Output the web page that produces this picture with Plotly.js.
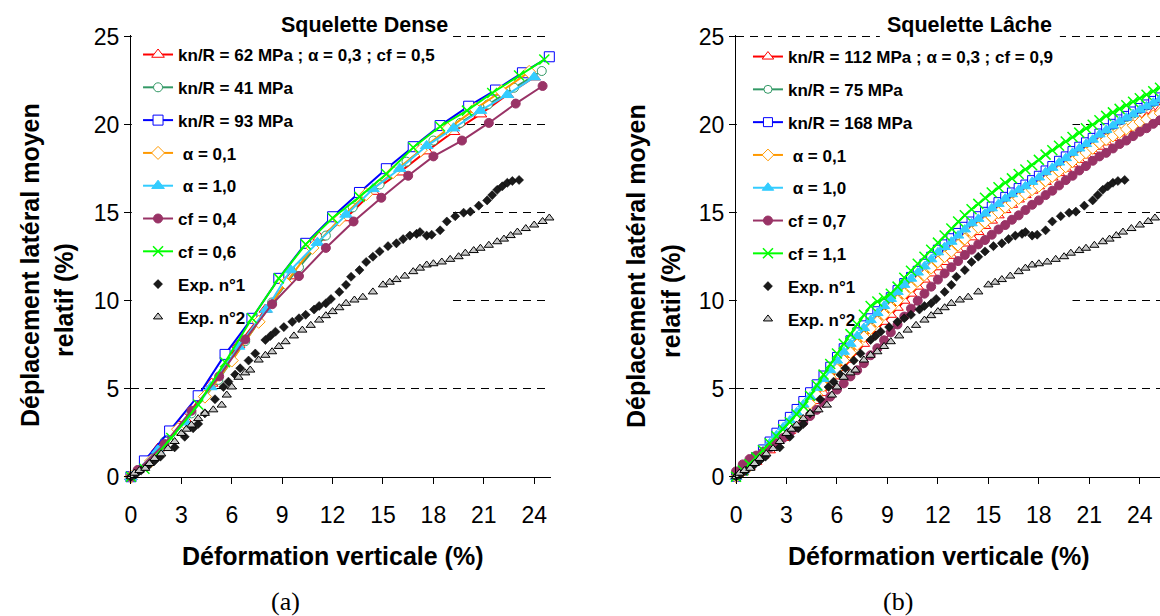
<!DOCTYPE html>
<html><head><meta charset="utf-8">
<script src="https://cdn.plot.ly/plotly-3.0.1.min.js"></script>
<style>html,body{margin:0;padding:0;background:#fff}#chart{width:1160px;height:616px}</style>
</head><body><div id="chart"></div>
<script>
// ---------- (a) Squelette Dense ----------
const dRefX = [0, 1.6, 3.2, 4.8, 6.4, 8.0, 9.6, 11.2, 12.8, 14.4, 16.0, 17.6, 19.2, 20.8, 22.4, 24.0];
const dRefY = [0, 1.6, 3.3, 5.3, 7.5, 9.5, 11.4, 13.6, 14.7, 16.2, 17.3, 18.5, 19.6, 20.6, 21.7, 22.7];
const dKn41X = [0, 0.4, 2.0, 3.6, 5.2, 6.8, 8.4, 10.0, 11.6, 13.2, 14.8, 16.4, 18.0, 19.6, 21.25, 22.8, 24.45];
const dKn41Y = [0, 0.35, 2.0, 3.6, 5.5, 7.7, 9.9, 11.9, 13.7, 15.3, 16.6, 17.9, 19.1, 20.1, 21.15, 22.1, 23.05];
const dKn93X = [0, 0.8, 2.3, 4.0, 5.6, 7.2, 8.8, 10.4, 12.0, 13.6, 15.2, 16.8, 18.4, 20.1, 21.7, 23.3, 24.9];
const dKn93Y = [0, 0.9, 2.6, 4.6, 6.95, 9.0, 11.27, 13.26, 14.77, 16.15, 17.5, 18.75, 19.95, 21.05, 21.97, 22.95, 23.86];
const dA01X = [0, 1.2, 2.8, 4.4, 6.0, 7.6, 9.2, 10.8, 12.4, 14.0, 15.6, 17.25, 18.85, 20.5, 22.05, 23.7];
const dA01Y = [0, 0.9, 2.7, 4.55, 6.6, 8.8, 11.0, 13.0, 14.6, 16.05, 17.3, 18.55, 19.75, 20.9, 21.9, 23.0];
const dA10X = [0, 1.6, 3.25, 4.75, 6.4, 8.05, 9.5, 11.1, 12.8, 14.4, 16.0, 17.6, 19.2, 20.8, 22.4, 24.0];
const dA10Y = [0, 1.5, 3.1, 5.1, 7.4, 9.5, 11.74, 13.3, 14.9, 16.35, 17.5, 18.8, 19.8, 20.8, 21.7, 22.7];
const dCf04X = [0, 0.4, 2.0, 3.6, 5.25, 6.8, 8.4, 10.0, 11.6, 13.25, 14.9, 16.5, 18.0, 19.7, 21.3, 22.9, 24.5];
const dCf04Y = [0, 0.38, 1.86, 3.75, 5.7, 7.8, 9.8, 11.4, 13.0, 14.5, 15.85, 17.1, 18.2, 19.1, 20.1, 21.2, 22.2];
const dCf06X = [0, 0.8, 2.4, 4.0, 5.6, 7.2, 8.8, 10.4, 12.0, 13.6, 15.2, 16.8, 18.4, 20.0, 21.5, 23.1, 24.6];
const dCf06Y = [0, 0.45, 2.2, 4.1, 6.5, 9.0, 11.27, 13.2, 14.7, 15.9, 17.2, 18.7, 19.9, 20.8, 21.8, 22.8, 23.7];

// ---------- Experiments (same in both panels) ----------
const exp1X = [0, 0.3, 0.6, 1.0, 1.4, 1.75, 2.6, 3.2, 3.7, 4.0, 4.4, 5.0, 5.5, 5.8, 6.2, 6.5, 7.0, 7.4, 8.0, 8.3, 8.6, 9.1, 9.6, 10.0, 10.4, 10.9, 11.2, 11.6, 11.9, 12.4, 12.8, 13.1, 13.6, 14.0, 14.4, 14.8, 15.3, 15.8, 16.2, 16.6, 17.0, 17.2, 17.6, 17.9, 18.4, 18.8, 19.3, 19.8, 20.2, 20.7, 21.2, 21.5, 21.8, 22.1, 22.4, 22.7, 23.1];
const exp1Y = [0, 0.15, 0.35, 0.6, 0.9, 1.14, 1.67, 2.27, 2.75, 3.0, 3.6, 4.4, 5.1, 5.4, 5.8, 6.16, 6.6, 7.0, 7.77, 8.0, 8.24, 8.5, 8.8, 9.0, 9.2, 9.5, 9.7, 9.85, 10.1, 10.5, 10.9, 11.36, 11.74, 12.2, 12.5, 12.8, 13.1, 13.26, 13.5, 13.7, 13.8, 13.9, 13.7, 13.75, 14.0, 14.5, 14.8, 15.0, 15.06, 15.4, 15.7, 16.0, 16.3, 16.5, 16.7, 16.8, 16.86];
const exp2X = [0, 0.2, 0.5, 0.85, 1.1, 1.4, 1.8, 2.2, 2.6, 3.0, 3.3, 3.6, 4.0, 4.4, 4.9, 5.4, 5.7, 6.0, 6.4, 6.8, 7.1, 7.6, 8.0, 8.4, 8.8, 9.2, 9.7, 10.2, 10.7, 11.2, 11.6, 12.0, 12.4, 12.8, 13.3, 13.8, 14.4, 15.0, 15.4, 15.8, 16.3, 16.8, 17.2, 17.6, 18.0, 18.5, 19.0, 19.5, 19.9, 20.4, 20.8, 21.3, 21.8, 22.2, 22.6, 23.0, 23.5, 24.0, 24.5, 24.9];
const exp2Y = [0, 0.2, 0.35, 0.48, 0.75, 1.04, 1.3, 1.6, 2.0, 2.46, 2.7, 2.94, 3.3, 3.6, 3.8, 4.07, 4.64, 5.1, 5.65, 5.9, 6.06, 6.63, 6.9, 7.1, 7.4, 7.67, 8.0, 8.33, 8.6, 8.9, 9.15, 9.38, 9.6, 9.85, 10.04, 10.2, 10.5, 10.9, 11.05, 11.2, 11.4, 11.65, 11.85, 12.03, 12.1, 12.2, 12.35, 12.5, 12.7, 12.85, 12.98, 13.15, 13.35, 13.5, 13.7, 13.9, 14.1, 14.3, 14.5, 14.7];

// ---------- (b) Squelette Lâche ----------
const lX = [0, 0.4, 0.8, 1.2, 1.6, 2.0, 2.4, 2.8, 3.2, 3.6, 4.0, 4.4, 4.8, 5.2, 5.6, 6.0, 6.4, 6.8, 7.2, 7.6, 8.0, 8.4, 8.8, 9.2, 9.6, 10.0, 10.4, 10.8, 11.2, 11.6, 12.0, 12.4, 12.8, 13.2, 13.6, 14.0, 14.4, 14.8, 15.2, 15.6, 16.0, 16.4, 16.8, 17.2, 17.6, 18.0, 18.4, 18.8, 19.2, 19.6, 20.0, 20.4, 20.8, 21.2, 21.6, 22.0, 22.4, 22.8, 23.2, 23.6, 24.0, 24.4, 24.8, 25.2];
const lRefY = [0, 0.25, 0.55, 0.85, 1.2, 1.5, 1.85, 2.2, 2.6, 3.0, 3.4, 3.85, 4.3, 4.75, 5.25, 5.7, 6.2, 6.65, 7.1, 7.55, 8.0, 8.4, 8.8, 9.2, 9.6, 10.0, 10.4, 10.8, 11.2, 11.55, 11.9, 12.2, 12.55, 12.9, 13.25, 13.6, 13.9, 14.25, 14.55, 14.85, 15.15, 15.45, 15.75, 16.0, 16.25, 16.5, 16.75, 17.0, 17.25, 17.5, 17.75, 18.0, 18.25, 18.5, 18.75, 19.0, 19.25, 19.5, 19.75, 20.0, 20.25, 20.45, 20.7, 20.9];
const lKn75Y = [0, 0.3, 0.65, 1.0, 1.45, 1.9, 2.35, 2.8, 3.2, 3.65, 4.1, 4.55, 5.05, 5.55, 6.05, 6.6, 7.1, 7.55, 8.0, 8.45, 8.9, 9.3, 9.7, 10.1, 10.5, 10.9, 11.25, 11.6, 11.95, 12.35, 12.75, 13.05, 13.35, 13.7, 14.05, 14.4, 14.65, 14.95, 15.25, 15.5, 15.8, 16.05, 16.3, 16.5, 16.75, 17.0, 17.3, 17.55, 17.85, 18.1, 18.4, 18.65, 18.9, 19.15, 19.45, 19.7, 19.95, 20.2, 20.4, 20.6, 20.85, 21.05, 21.25, 21.45];
const lKn168Y = [0, 0.35, 0.7, 1.1, 1.55, 2.0, 2.5, 2.95, 3.4, 3.85, 4.3, 4.8, 5.25, 5.75, 6.25, 6.8, 7.3, 7.75, 8.2, 8.6, 9.0, 9.4, 9.8, 10.2, 10.6, 11.0, 11.35, 11.7, 12.1, 12.5, 12.9, 13.2, 13.55, 13.85, 14.2, 14.5, 14.8, 15.05, 15.35, 15.6, 15.9, 16.15, 16.4, 16.6, 16.85, 17.1, 17.4, 17.65, 17.95, 18.2, 18.5, 18.75, 19.0, 19.25, 19.5, 19.8, 20.05, 20.3, 20.5, 20.75, 20.95, 21.15, 21.35, 21.55];
const lA01Y = [0, 0.3, 0.6, 0.95, 1.3, 1.7, 2.1, 2.5, 2.9, 3.3, 3.7, 4.15, 4.65, 5.15, 5.65, 6.1, 6.6, 7.05, 7.5, 7.95, 8.4, 8.8, 9.2, 9.6, 10.0, 10.4, 10.75, 11.1, 11.45, 11.85, 12.2, 12.5, 12.8, 13.15, 13.5, 13.9, 14.15, 14.45, 14.75, 15.0, 15.3, 15.55, 15.8, 16.05, 16.3, 16.5, 16.8, 17.05, 17.35, 17.6, 17.9, 18.15, 18.4, 18.65, 18.95, 19.15, 19.35, 19.55, 19.75, 19.95, 20.15, 20.3, 20.5, 20.65];
const lA10Y = [0, 0.3, 0.65, 1.0, 1.45, 1.9, 2.35, 2.8, 3.2, 3.65, 4.1, 4.55, 5.05, 5.55, 6.05, 6.6, 7.1, 7.55, 8.0, 8.45, 8.9, 9.3, 9.7, 10.1, 10.5, 10.9, 11.25, 11.6, 11.95, 12.35, 12.75, 13.05, 13.35, 13.7, 14.05, 14.4, 14.65, 14.95, 15.25, 15.5, 15.8, 16.05, 16.3, 16.5, 16.75, 17.0, 17.3, 17.55, 17.85, 18.1, 18.4, 18.65, 18.9, 19.15, 19.45, 19.7, 19.95, 20.2, 20.4, 20.6, 20.85, 21.05, 21.25, 21.45];
const lCf07Y = [0.3, 0.7, 1.0, 1.2, 1.4, 1.65, 1.9, 2.2, 2.5, 2.8, 3.1, 3.45, 3.8, 4.2, 4.55, 4.95, 5.3, 5.7, 6.05, 6.45, 6.9, 7.3, 7.75, 8.2, 8.65, 9.1, 9.55, 10.0, 10.4, 10.8, 11.2, 11.55, 11.9, 12.25, 12.6, 12.9, 13.2, 13.45, 13.75, 14.05, 14.3, 14.6, 14.85, 15.15, 15.45, 15.7, 16.0, 16.25, 16.55, 16.85, 17.1, 17.4, 17.65, 17.95, 18.2, 18.4, 18.65, 18.9, 19.1, 19.35, 19.6, 19.8, 20.05, 20.25];
const lCf11Y = [0, 0.35, 0.7, 1.1, 1.5, 1.9, 2.3, 2.7, 3.1, 3.55, 4.0, 4.6, 5.2, 5.8, 6.4, 7.0, 7.55, 8.1, 8.65, 9.2, 9.7, 9.95, 10.15, 10.4, 10.8, 11.3, 11.7, 12.1, 12.5, 12.9, 13.3, 13.7, 14.1, 14.5, 14.85, 15.2, 15.5, 15.85, 16.15, 16.45, 16.7, 16.95, 17.2, 17.45, 17.7, 18.0, 18.3, 18.55, 18.8, 19.05, 19.3, 19.55, 19.8, 20.0, 20.25, 20.5, 20.7, 20.9, 21.1, 21.3, 21.5, 21.7, 21.9, 22.1];

const namesA = ['kn/R = 62 MPa ; α = 0,3 ; cf = 0,5', 'kn/R = 41 MPa', 'kn/R = 93 MPa', '\u00a0α = 0,1', '\u00a0α = 1,0', 'cf = 0,4', 'cf = 0,6', 'Exp. n°1', 'Exp. n°2'];
const namesB = ['kn/R = 112 MPa ; α = 0,3 ; cf = 0,9', 'kn/R = 75 MPa', 'kn/R = 168 MPa', '\u00a0α = 0,1', '\u00a0α = 1,0', 'cf = 0,7', 'cf = 1,1', 'Exp. n°1', 'Exp. n°2'];

const FONT = 'Liberation Sans, Arial, sans-serif';
const styles = [
  {line: '#FF0000', sym: 'triangle-up', fill: '#FFFFFF', mline: '#FF0000'},
  {line: '#339966', sym: 'circle', fill: '#FFFFFF', mline: '#339966'},
  {line: '#0000FF', sym: 'square', fill: '#FFFFFF', mline: '#0000FF'},
  {line: '#FF9900', sym: 'diamond', fill: '#FFFFFF', mline: '#FF9900'},
  {line: '#33CCFF', sym: 'triangle-up', fill: '#33CCFF', mline: '#33CCFF'},
  {line: '#993366', sym: 'circle', fill: '#993366', mline: '#993366'},
  {line: '#00FF00', sym: 'x-thin', fill: '#00FF00', mline: '#00FF00'}
];

function simTrace(x, y, i, names, panel, size) {
  const s = styles[i];
  return {
    x: x, y: y, type: 'scatter', mode: 'lines+markers', cliponaxis: false,
    name: '<b>' + names[i] + '</b>',
    xaxis: panel === 1 ? 'x' : 'x2', yaxis: panel === 1 ? 'y' : 'y2',
    legend: panel === 1 ? 'legend' : 'legend2', legendgroup: 'p' + panel + 'g' + i,
    line: {color: s.line, width: 2},
    marker: {symbol: s.sym, size: (s.sym === 'triangle-up' ? size + 2 : size), color: s.fill,
             line: {color: s.mline, width: s.sym === 'x-thin' ? 1.5 : 1}}
  };
}
function expTraces(panel, names) {
  const xa = panel === 1 ? 'x' : 'x2', ya = panel === 1 ? 'y' : 'y2', lg = panel === 1 ? 'legend' : 'legend2';
  return [
    {x: exp1X, y: exp1Y, type: 'scatter', mode: 'markers', cliponaxis: false, name: '<b>' + names[7] + '</b>',
     xaxis: xa, yaxis: ya, legend: lg, legendgroup: 'p' + panel + 'e1',
     marker: {symbol: 'diamond', size: 7, color: '#1a1a1a', line: {color: '#000', width: 0.5}}},
    {x: exp2X, y: exp2Y, type: 'scatter', mode: 'markers', cliponaxis: false, name: '<b>' + names[8] + '</b>',
     xaxis: xa, yaxis: ya, legend: lg, legendgroup: 'p' + panel + 'e2',
     marker: {symbol: 'triangle-up', size: 8, color: '#C8C8C8', line: {color: '#000', width: 1}}}
  ];
}

const traces = [
  simTrace(dRefX, dRefY, 0, namesA, 1, 9),
  simTrace(dKn41X, dKn41Y, 1, namesA, 1, 9),
  simTrace(dKn93X, dKn93Y, 2, namesA, 1, 10),
  simTrace(dA01X, dA01Y, 3, namesA, 1, 10),
  simTrace(dA10X, dA10Y, 4, namesA, 1, 9),
  simTrace(dCf04X, dCf04Y, 5, namesA, 1, 9),
  simTrace(dCf06X, dCf06Y, 6, namesA, 1, 10),
  ...expTraces(1, namesA),
  simTrace(lX, lRefY, 0, namesB, 2, 8),
  simTrace(lX, lKn75Y, 1, namesB, 2, 8),
  simTrace(lX, lKn168Y, 2, namesB, 2, 9),
  simTrace(lX, lA01Y, 3, namesB, 2, 9),
  simTrace(lX, lA10Y, 4, namesB, 2, 8),
  simTrace(lX, lCf07Y, 5, namesB, 2, 9),
  simTrace(lX, lCf11Y, 6, namesB, 2, 10),
  ...expTraces(2, namesB)
];

const xax = {
  showline: true, linecolor: '#000', linewidth: 1, mirror: false,
  ticks: 'outside', ticklen: 6, tickcolor: '#000', dtick: 3, tick0: 0,
  ticklabelstandoff: 12,
  showgrid: false, zeroline: false,
  tickfont: {family: FONT, size: 23, color: '#000'}
};
const yax = {
  showline: true, linecolor: '#000', linewidth: 1,
  ticks: 'outside', ticklen: 6, tickcolor: '#000', dtick: 5, tick0: 0, range: [0, 25.1],
  showgrid: true, gridcolor: '#000', gridwidth: 1, griddash: '8px,6px', zeroline: false,
  tickfont: {family: FONT, size: 23, color: '#000'}
};

const legendBase = {
  bgcolor: 'rgba(0,0,0,0)', borderwidth: 0, xanchor: 'left', yanchor: 'top',
  traceorder: 'grouped', tracegroupgap: 7.7,
  font: {family: FONT, size: 17, color: '#000'}
};

// white legend-area boxes hiding the grid (drawn between grid and traces)
const boxStyle = {type: 'rect', layer: 'between', fillcolor: '#FFFFFF', line: {width: 0}};

const layout = {
  width: 1160, height: 616, paper_bgcolor: '#fff', plot_bgcolor: '#fff',
  margin: {l: 0, r: 0, t: 0, b: 0},
  font: {family: FONT, color: '#000'},
  showlegend: true,
  xaxis: Object.assign({}, xax, {domain: [0.1129, 0.475], range: [0, 25], anchor: 'y'}),
  yaxis: Object.assign({}, yax, {domain: [0.2261, 0.9433], anchor: 'x'}),
  xaxis2: Object.assign({}, xax, {domain: [0.6345, 1.0], range: [0, 25.2], anchor: 'y2'}),
  yaxis2: Object.assign({}, yax, {domain: [0.2261, 0.9433], anchor: 'x2'}),
  legend: Object.assign({}, legendBase, {x: 0.119, y: 0.94}),
  legend2: Object.assign({}, legendBase, {x: 0.6448, y: 0.9367}),
  shapes: [
    Object.assign({}, boxStyle, {xref: 'x', yref: 'y', x0: 0.05, x1: 19.17, y0: 9.5, y1: 25.5}),
    Object.assign({}, boxStyle, {xref: 'x2', yref: 'y2', x0: 0.05, x1: 20.0, y0: 9.5, y1: 24.6}),
    Object.assign({}, boxStyle, {xref: 'x2', yref: 'y2', x0: 8.55, x1: 19.25, y0: 24.6, y1: 25.5})
  ],
  annotations: [
    {text: '<b>Squelette Dense</b>', x: 364 / 1160, y: 0.9594, xref: 'paper', yref: 'paper', showarrow: false,
     xanchor: 'center', yanchor: 'middle', font: {family: FONT, size: 21.5}},
    {text: '<b>Squelette Lâche</b>', x: 970 / 1160, y: 0.9594, xref: 'paper', yref: 'paper', showarrow: false,
     xanchor: 'center', yanchor: 'middle', font: {family: FONT, size: 21.5}},
    {text: '<b>Déplacement latéral moyen</b>', x: 30 / 1160, y: (616 - 265) / 616, xref: 'paper', yref: 'paper',
     showarrow: false, textangle: -90, xanchor: 'center', yanchor: 'middle', font: {family: FONT, size: 25}},
    {text: '<b>relatif (%)</b>', x: 64 / 1160, y: (616 - 300) / 616, xref: 'paper', yref: 'paper',
     showarrow: false, textangle: -90, xanchor: 'center', yanchor: 'middle', font: {family: FONT, size: 25}},
    {text: '<b>Déplacement latéral moyen</b>', x: 636 / 1160, y: (616 - 266) / 616, xref: 'paper', yref: 'paper',
     showarrow: false, textangle: -90, xanchor: 'center', yanchor: 'middle', font: {family: FONT, size: 25}},
    {text: '<b>relatif (%)</b>', x: 671 / 1160, y: (616 - 301) / 616, xref: 'paper', yref: 'paper',
     showarrow: false, textangle: -90, xanchor: 'center', yanchor: 'middle', font: {family: FONT, size: 25}},
    {text: '<b>Déformation verticale (%)</b>', x: 332 / 1160, y: (616 - 556) / 616, xref: 'paper', yref: 'paper', showarrow: false,
     xanchor: 'center', yanchor: 'middle', font: {family: FONT, size: 25}},
    {text: '<b>Déformation verticale (%)</b>', x: 938 / 1160, y: (616 - 556) / 616, xref: 'paper', yref: 'paper', showarrow: false,
     xanchor: 'center', yanchor: 'middle', font: {family: FONT, size: 25}},
    {text: '(a)', x: 285 / 1160, y: (616 - 601) / 616, xref: 'paper', yref: 'paper', showarrow: false,
     xanchor: 'center', yanchor: 'middle', font: {family: 'Liberation Serif, Times New Roman, serif', size: 26}},
    {text: '(b)', x: 898 / 1160, y: (616 - 601) / 616, xref: 'paper', yref: 'paper', showarrow: false,
     xanchor: 'center', yanchor: 'middle', font: {family: 'Liberation Serif, Times New Roman, serif', size: 26}}
  ]
};

Plotly.newPlot('chart', traces, layout, {staticPlot: true, displayModeBar: false});
</script></body></html>
